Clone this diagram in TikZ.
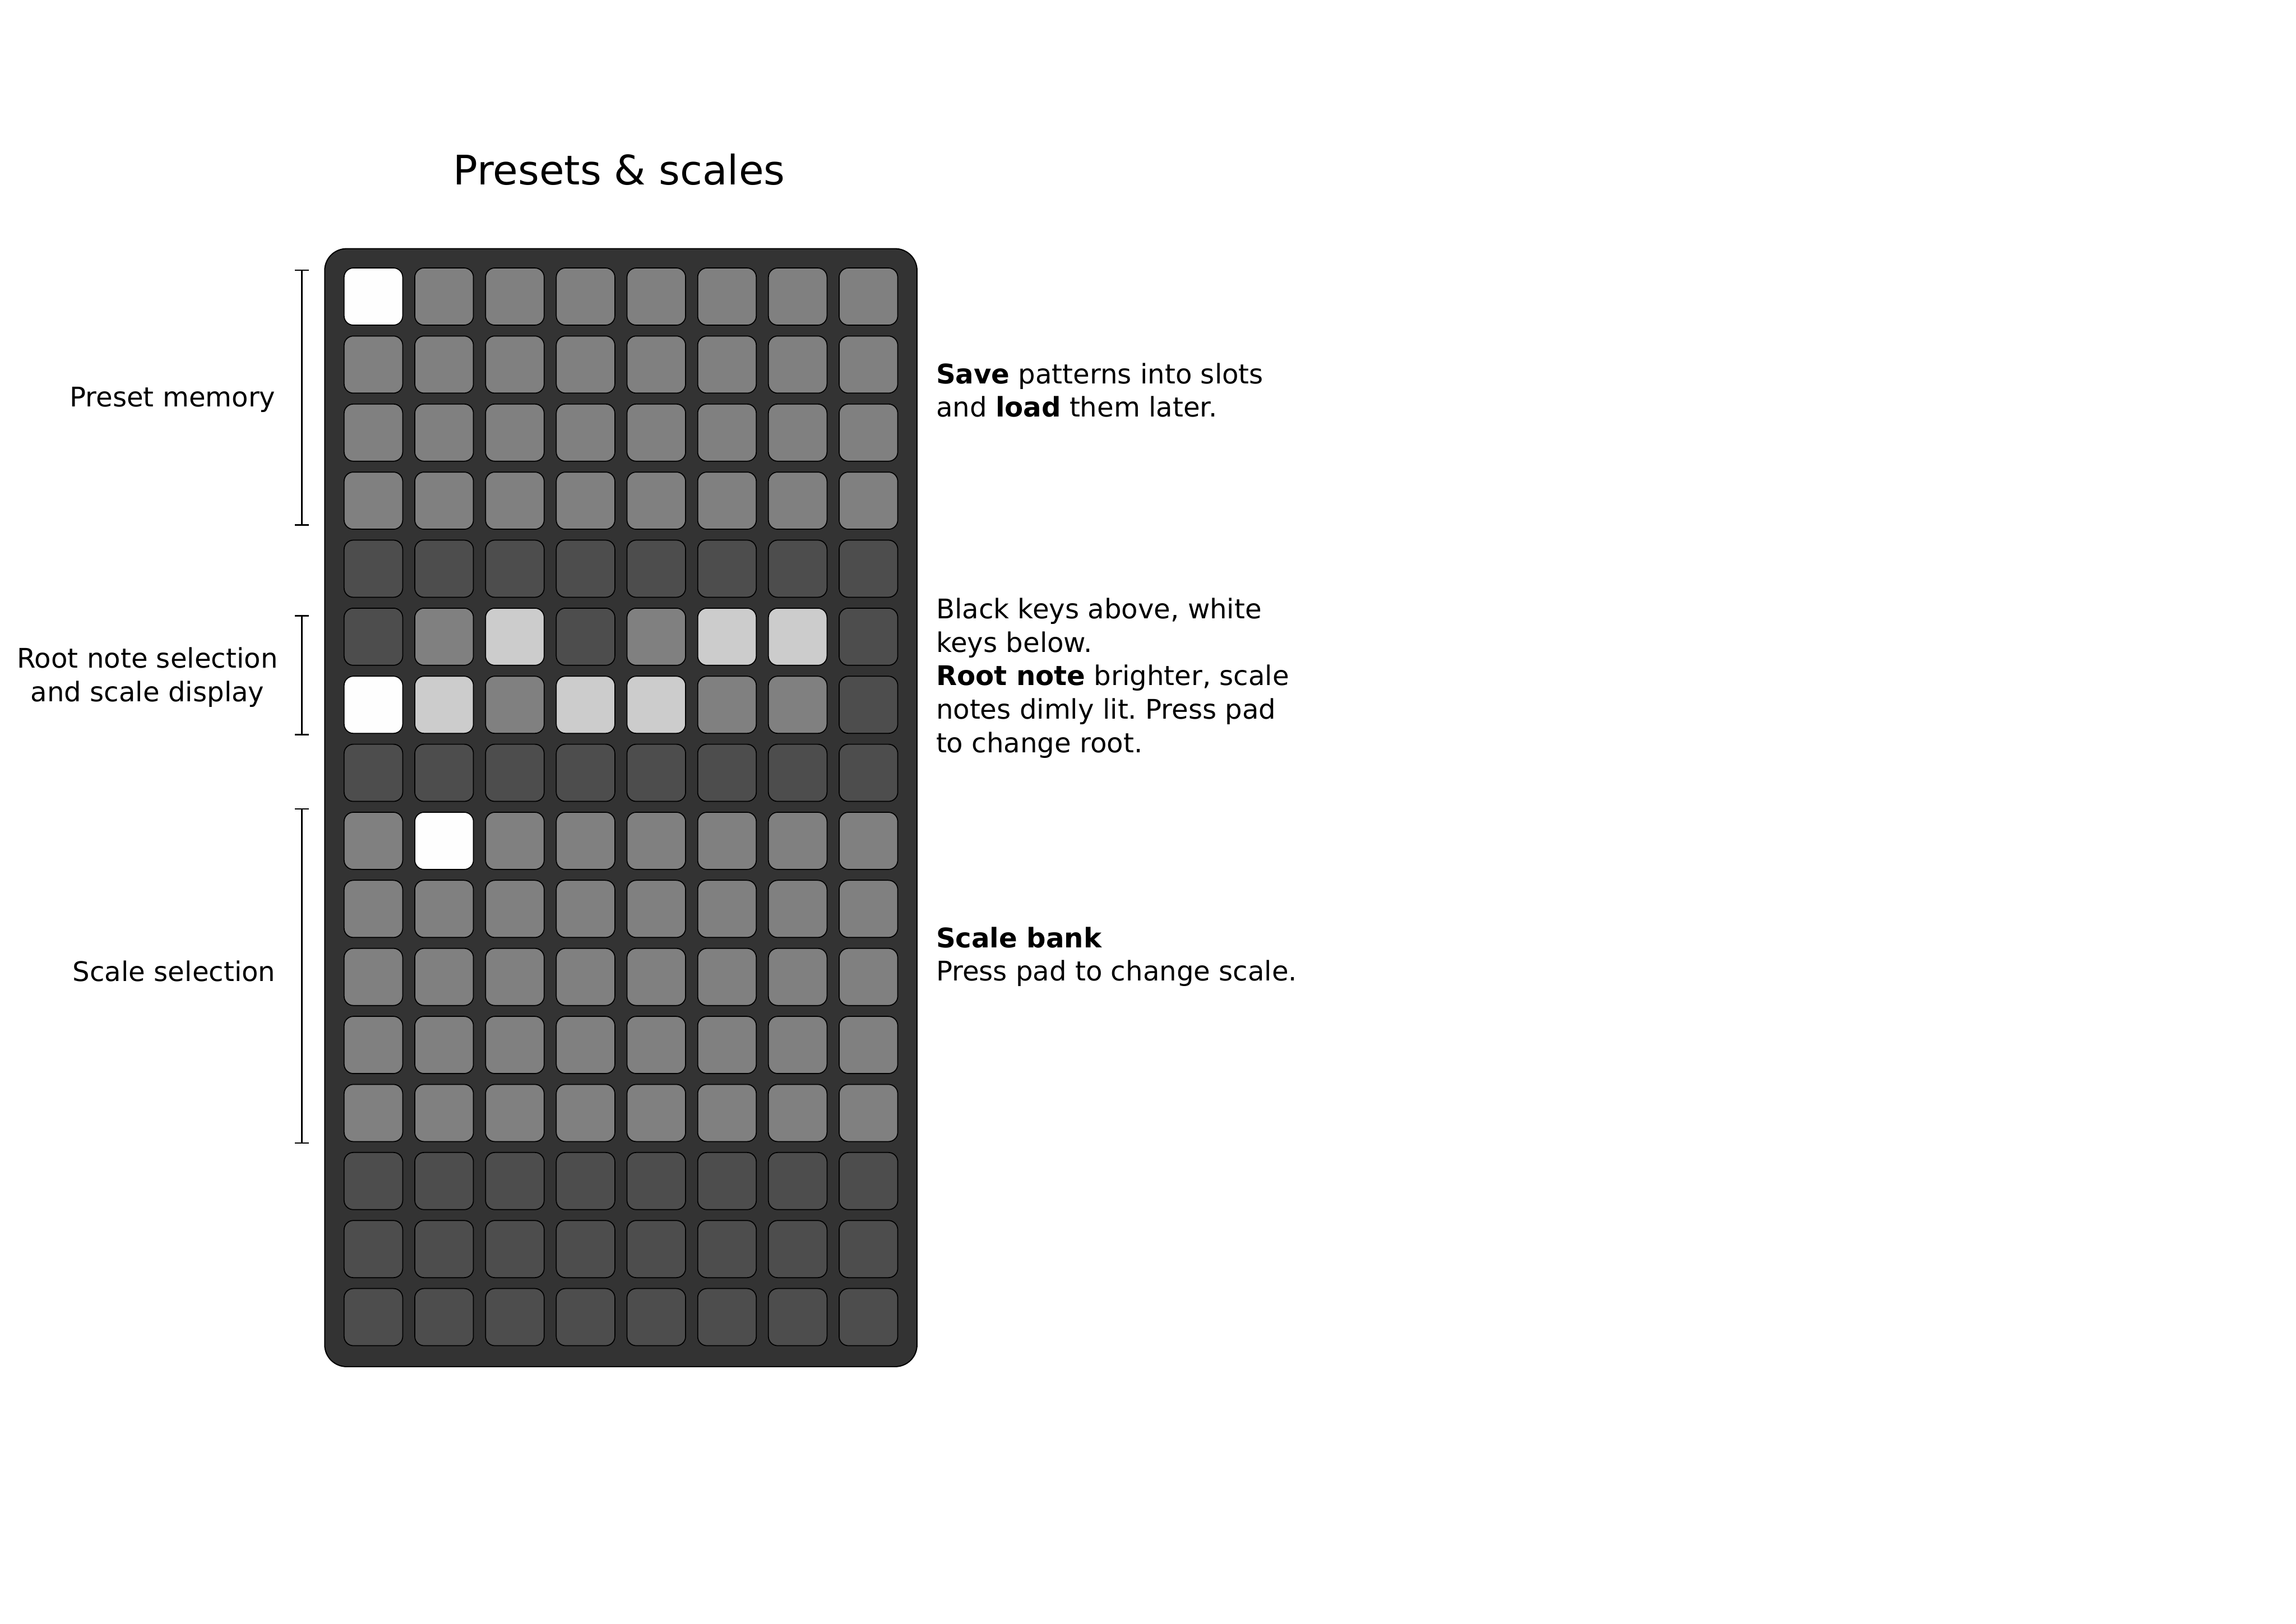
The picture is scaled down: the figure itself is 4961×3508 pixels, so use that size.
\documentclass[tikz,border=0pt]{standalone}
\usepackage{fontspec}
\setmainfont{DejaVu Sans}
\usepackage{tikz}
\usetikzlibrary{arrows.meta}
\usepackage{xcolor}
\frenchspacing

\definecolor{panelgray}{HTML}{333333}
\definecolor{padoff}{HTML}{4D4D4D}
\definecolor{padmid}{HTML}{808080}
\definecolor{padlit}{HTML}{CCCCCC}
\definecolor{padon}{HTML}{FEFEFE}

\tikzset{
	pad/.style={draw=black, line width=0.6pt, rounded corners=0.2cm, minimum width=1.266cm, minimum height=1.234cm, inner sep=0pt},
	panelbox/.style={draw=black, line width=0.7pt, fill=panelgray, rounded corners=0.47cm, minimum width=12.79cm, minimum height=24.14cm, inner sep=0pt},
	bracket/.style={line width=0.9pt, arrows={Bar[width=3mm]-Bar[width=3mm]}},
	note/.style={font=\fontsize{16.6}{20.6}\selectfont, inner sep=0pt},
}

\begin{document}
\begin{tikzpicture}[x=0.01cm, y=-0.01cm]
			
			% page
			\fill[white] (0,0) rectangle (4961,3508);
			\useasboundingbox (0,0) rectangle (4961,3508);
			
			% title
			\node[font=\fontsize{25}{30}\selectfont] (title) at (1338,366) {Presets \& scales};
			
			% panel
			\node[panelbox] (panel) at (1341.5,1745) {};
			
			% pads, one row per line (top to bottom)
			\foreach \r/\spec in {
				0/{on,mid,mid,mid,mid,mid,mid,mid},
				1/{mid,mid,mid,mid,mid,mid,mid,mid},
				2/{mid,mid,mid,mid,mid,mid,mid,mid},
				3/{mid,mid,mid,mid,mid,mid,mid,mid},
				4/{off,off,off,off,off,off,off,off},
				5/{off,mid,lit,off,mid,lit,lit,off},
				6/{on,lit,mid,lit,lit,mid,mid,off},
				7/{off,off,off,off,off,off,off,off},
				8/{mid,on,mid,mid,mid,mid,mid,mid},
				9/{mid,mid,mid,mid,mid,mid,mid,mid},
				10/{mid,mid,mid,mid,mid,mid,mid,mid},
				11/{mid,mid,mid,mid,mid,mid,mid,mid},
				12/{mid,mid,mid,mid,mid,mid,mid,mid},
				13/{off,off,off,off,off,off,off,off},
				14/{off,off,off,off,off,off,off,off},
				15/{off,off,off,off,off,off,off,off}}{
				\foreach \s [count=\c from 0] in \spec
					\node[pad, fill=pad\s] (pad-\r-\c) at ({806.8+152.8*\c},{640.7+147*\r}) {};
			}
			
			% brackets on the left
			\coordinate (preset-top) at (652,582);
			\coordinate (preset-bot) at (652,1136);
			\coordinate (root-top) at (652,1329);
			\coordinate (root-bot) at (652,1589);
			\coordinate (scale-top) at (652,1746);
			\coordinate (scale-bot) at (652,2471);
			\draw[bracket] (preset-top) -- (preset-bot);
			\draw[bracket] (root-top) -- (root-bot);
			\draw[bracket] (scale-top) -- (scale-bot);
			
			% labels on the left
			\node[note, anchor=east] (lbl-preset) at (596,863) {Preset memory};
			\node[note, anchor=east, align=center] (lbl-root) at (601,1463) {Root note selection\\and scale display};
			\node[note, anchor=east] (lbl-scale) at (596,2098) {Scale selection};
			
			% notes on the right
			\node[note, anchor=west, align=left] (txt-preset) at (2022,843) {\textbf{Save} patterns into slots\\and \textbf{load} them later.};
			\node[note, anchor=west, align=left] (txt-root) at (2022,1465) {Black keys above, white\\keys below.\\\textbf{Root note} brighter, scale\\notes dimly lit. Press pad\\to change root.};
			\node[note, anchor=west, align=left] (txt-scale) at (2022,2067) {\textbf{Scale bank}\\Press pad to change scale.};
			
		\end{tikzpicture}
\end{document}
